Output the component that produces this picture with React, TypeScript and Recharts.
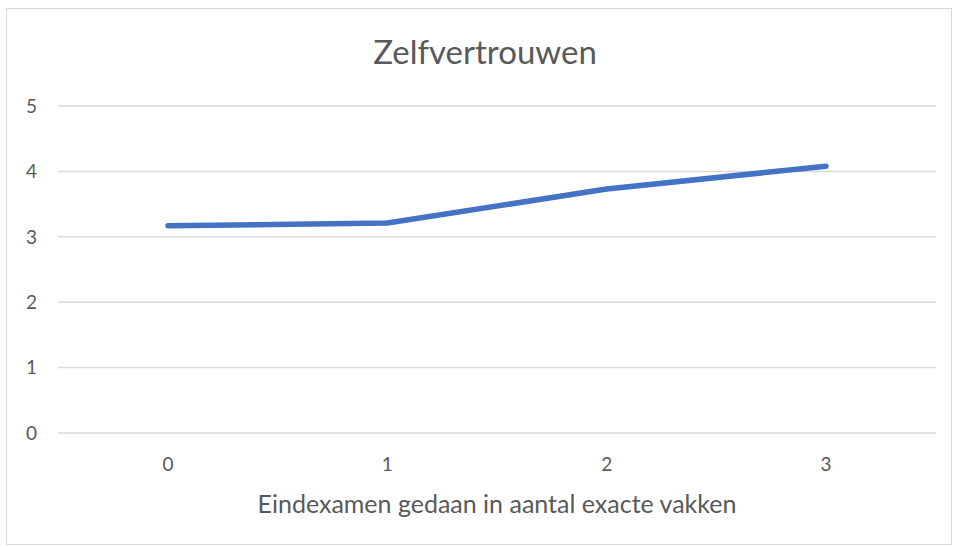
import { LineChart, Line, XAxis, YAxis, CartesianGrid } from "recharts";

const categories = ["0", "1", "2", "3"];
const zelfvertrouwen = [3.17, 3.21, 3.73, 4.08];
const yTicks = [0, 1, 2, 3, 4, 5];

const data = categories.map((c, i) => ({ vakken: c, score: zelfvertrouwen[i] }));

const font = "Lato, 'Open Sans', sans-serif";
const grey = "#595959";

export default function App() {
  return (
    <div style={{ position: "absolute", left: 0, top: 0, width: 954, height: 547, background: "#fff", fontFamily: font }}>
      <div
        style={{
          position: "absolute",
          left: 6,
          top: 8,
          width: 946,
          height: 537,
          border: "1px solid #d9d9d9",
          boxSizing: "border-box",
        }}
      />
      <div
        style={{
          position: "absolute",
          left: 0,
          width: 970,
          top: 31,
          textAlign: "center",
          fontSize: 33,
          lineHeight: "40px",
          color: grey,
        }}
      >
        Zelfvertrouwen
      </div>
      <LineChart
        width={954}
        height={547}
        data={data}
        margin={{ top: 106, right: 18, bottom: 30, left: 8 }}
        style={{ position: "absolute", left: 0, top: 0 }}
      >
        <CartesianGrid vertical={false} stroke="#d9d9d9" strokeWidth={1.5} />
        <XAxis
          dataKey="vakken"
          axisLine={false}
          tickLine={false}
          tickSize={0}
          tickMargin={25}
          height={84}
          padding={{ left: 110, right: 110 }}
          tick={{ fill: grey, fontSize: 19, fontFamily: font }}
          label={{
            value: "Eindexamen gedaan in aantal exacte vakken",
            position: "insideBottom",
            offset: 4,
            fill: grey,
            fontSize: 25,
            fontFamily: font,
          }}
        />
        <YAxis
          domain={[0, 5]}
          ticks={yTicks}
          axisLine={false}
          tickLine={false}
          tickSize={0}
          width={50}
          tickMargin={21}
          tick={{ fill: grey, fontSize: 19, fontFamily: font }}
        />
        <Line
          type="linear"
          dataKey="score"
          stroke="#4472C4"
          strokeWidth={5.5}
          strokeLinecap="round"
          strokeLinejoin="round"
          dot={false}
          isAnimationActive={false}
        />
      </LineChart>
    </div>
  );
}
